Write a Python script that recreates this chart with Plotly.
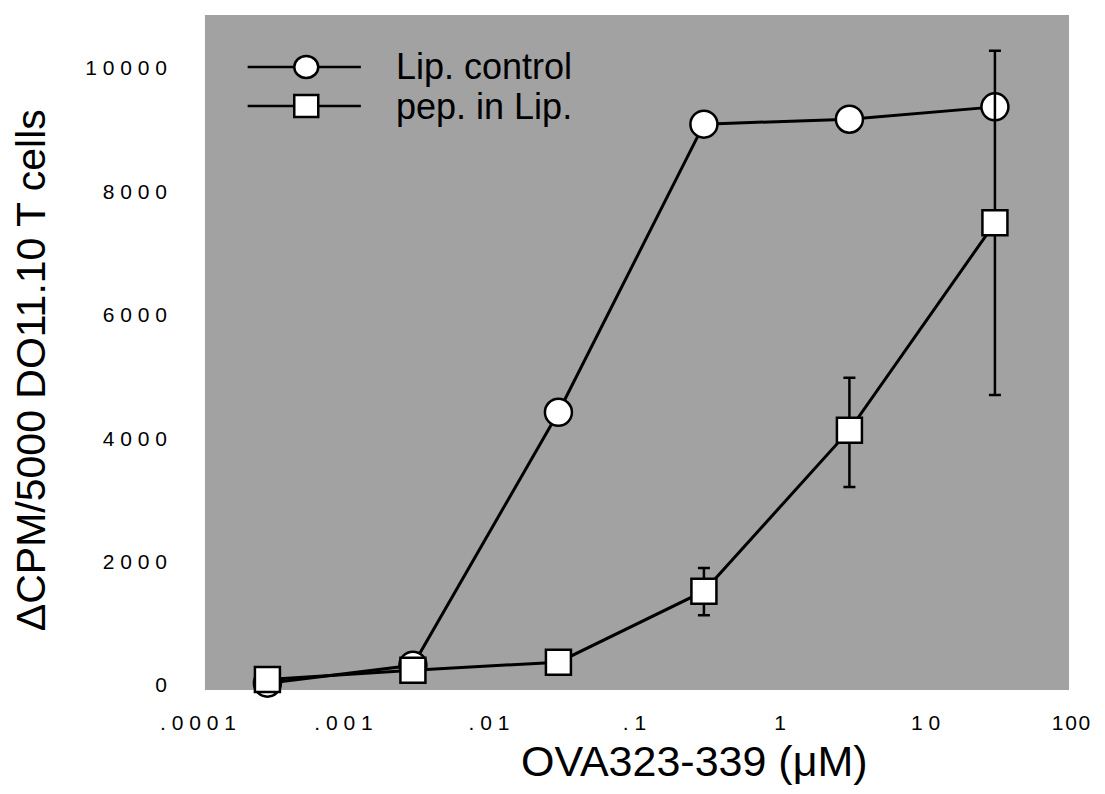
import plotly.graph_objects as go

# ---- data ----
conc_uM = [0.0003, 0.003, 0.03, 0.3, 3, 30]
lip_control = [30, 320, 4420, 9090, 9170, 9370]
pep_in_lip = [90, 240, 370, 1520, 4130, 7490]
pep_err_plus = [0, 0, 0, 375, 850, 2790]
pep_err_minus = [0, 0, 0, 390, 920, 2790]
series_names = ["Lip. control", "pep. in Lip."]
x_tickvals = [1e-4, 1e-3, 1e-2, 1e-1, 1, 10, 100]
x_ticktext = [".0001", ".001", ".01", ".1", "1", "10", "100"]
y_tickvals = [0, 2000, 4000, 6000, 8000, 10000]

def spaced(s, sp="\u2008"):
    return sp.join(list(s))

# ---- layout geometry (page pixels; the page body has an 8px margin) ----
OFF = 8
W, H = 1089, 778
L, R, T, B = 198, 1077, 15, 690
pw, ph = R - L, B - T
def px(x):
    return (x - L) / pw
def py(y):
    return (B - y) / ph

FONT = "Arial, Liberation Sans, Helvetica, sans-serif"

fig = go.Figure()
fig.add_trace(go.Scatter(
    x=conc_uM, y=lip_control, name=series_names[0], mode="lines+markers",
    line=dict(color="black", width=3),
    marker=dict(symbol="circle", size=27, color="white", line=dict(color="black", width=2.5)),
    cliponaxis=False, showlegend=False))
fig.add_trace(go.Scatter(
    x=conc_uM, y=pep_in_lip, name=series_names[1], mode="lines+markers",
    line=dict(color="black", width=3),
    marker=dict(symbol="square", size=25, color="white", line=dict(color="black", width=2.5)),
    error_y=dict(type="data", array=pep_err_plus, arrayminus=pep_err_minus,
                 color="black", thickness=2.5, width=6),
    cliponaxis=False, showlegend=False))

shapes = [
    dict(type="rect", xref="paper", yref="paper", x0=px(205), x1=px(1075), y0=0, y1=1,
         fillcolor="#a2a2a2", line=dict(width=0), layer="below"),
]
annotations = []
# custom legend (line + marker + text)
legend_rows = [(67, "circle"), (106, "square")]
for (yy, sym), name in zip(legend_rows, series_names):
    shapes.append(dict(type="line", xref="paper", yref="paper", x0=px(248), x1=px(362),
                       y0=py(yy), y1=py(yy), line=dict(color="black", width=2.5)))
    shapes.append(dict(type="circle" if sym == "circle" else "rect",
                       xref="paper", yref="paper", xsizemode="pixel", ysizemode="pixel",
                       xanchor=px(307), yanchor=py(yy), x0=-12, x1=12, y0=-11, y1=11,
                       fillcolor="white", line=dict(color="black", width=2.5)))
    annotations.append(dict(xref="paper", yref="paper", x=px(395), y=py(yy), text=name,
                            showarrow=False, xanchor="left", yanchor="middle",
                            font=dict(family=FONT, size=36, color="black")))

annotations.append(dict(xref="paper", yref="paper", x=px(698), y=py(761),
                        text="OVA323-339 (\u03bcM)", showarrow=False,
                        xanchor="center", yanchor="middle",
                        font=dict(family=FONT, size=43, color="black")))
annotations.append(dict(xref="paper", yref="paper", x=px(30), y=py(370),
                        text="\u0394CPM/5000 DO11.10 T cells", showarrow=False, textangle=-90,
                        xanchor="center", yanchor="middle",
                        font=dict(family=FONT, size=41, color="black")))

x_labels = [spaced(t) for t in x_ticktext[:-1]] + [spaced(x_ticktext[-1], "\u200a")]

fig.update_layout(
    width=W, height=H,
    margin=dict(l=L - OFF, r=(W + OFF) - R, t=T - OFF, b=(H + OFF) - B, pad=0),
    paper_bgcolor="white", plot_bgcolor="rgba(0,0,0,0)",
    shapes=shapes, annotations=annotations,
    font=dict(family=FONT, color="black"),
)
fig.update_xaxes(type="log", range=[-4, 2], tickvals=x_tickvals, ticktext=x_labels,
                 showgrid=False, zeroline=False, showline=False, ticks="",
                 ticklabelstandoff=18, tickfont=dict(family=FONT, size=21, color="black"))
fig.update_yaxes(range=[-81, 10859], tickvals=y_tickvals,
                 ticktext=[spaced(str(v)) for v in y_tickvals],
                 showgrid=False, zeroline=False, showline=False, ticks="",
                 ticklabelstandoff=30, tickfont=dict(family=FONT, size=21, color="black"))

fig.write_html("out.html", config={"displayModeBar": False})
